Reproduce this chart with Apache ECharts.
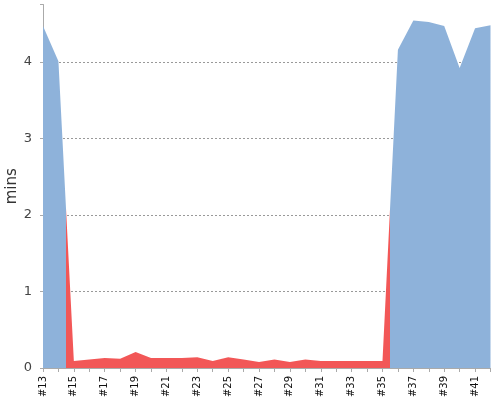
<!DOCTYPE html>
<html>
<head>
<meta charset="utf-8">
<script src="https://cdn.jsdelivr.net/npm/echarts@6/dist/echarts.min.js"></script>
<style>
  html, body { margin: 0; padding: 0; background: #fff; }
  #chart { width: 500px; height: 400px; }
</style>
</head>
<body>
<div id="chart"></div>
<script>
// build numbers #13 .. #42
const categories = ['#13', '#14', '#15', '#16', '#17', '#18', '#19', '#20', '#21', '#22',
  '#23', '#24', '#25', '#26', '#27', '#28', '#29', '#30', '#31', '#32',
  '#33', '#34', '#35', '#36', '#37', '#38', '#39', '#40', '#41', '#42']
const minutes = [4.47, 4.01, 0.09, 0.11, 0.13, 0.12, 0.21, 0.13, 0.13, 0.13,
  0.14, 0.09, 0.14, 0.11, 0.08, 0.11, 0.08, 0.11, 0.09, 0.09,
  0.09, 0.09, 0.09, 4.16, 4.54, 4.52, 4.47, 3.92, 4.44, 4.48]
const yTicks = [0, 1, 2, 3, 4]

const BLUE = '#8eb2da'
const RED = '#f25757'

const chart = echarts.init(document.getElementById('chart'))

const option = {
  animation: false,
  textStyle: { fontFamily: 'DejaVu Sans' },
  grid: { left: 43, right: 9.5, top: 4.5, bottom: 32, containLabel: false, outerBoundsMode: 'none' },
  visualMap: {
    show: false,
    dimension: 0,
    pieces: [
      { lt: 1.5, color: BLUE },
      { gte: 1.5, lt: 22.5, color: RED },
      { gte: 22.5, color: BLUE }
    ]
  },
  xAxis: {
    type: 'value',
    min: 0,
    max: categories.length - 1,
    interval: 1,
    offset: 3,
    axisLine: { lineStyle: { color: '#aaa' } },
    axisTick: { show: true, length: 4, lineStyle: { color: '#aaa' } },
    axisLabel: {
      rotate: 90,
      margin: 5,
      fontSize: 10,
      color: '#111',
      formatter: v => (v % 2 === 0 ? categories[v] : '')
    },
    splitLine: { show: false }
  },
  yAxis: {
    type: 'value',
    min: 0,
    max: 4.75,
    interval: 1,
    offset: 3,
    name: 'mins',
    nameLocation: 'middle',
    nameGap: 20,
    nameMoveOverlap: false,
    nameTextStyle: { fontSize: 15, color: '#333' },
    axisLine: { show: true, lineStyle: { color: '#aaa' } },
    axisTick: { show: true, length: 3, lineStyle: { color: '#aaa' } },
    axisLabel: {
      fontSize: 13,
      color: '#444',
      margin: 8,
      formatter: v => (yTicks.includes(v) ? String(v) : '')
    },
    splitLine: {
      show: true,
      showMinLine: false,
      showMaxLine: false,
      lineStyle: { color: '#999', type: [2, 2], width: 1 }
    }
  },
  series: [{
    type: 'line',
    data: minutes.map((v, i) => [i, v]),
    showSymbol: false,
    lineStyle: { width: 0 },
    areaStyle: { opacity: 1 }
  }]
}

chart.setOption(option)
</script>
</body>
</html>
